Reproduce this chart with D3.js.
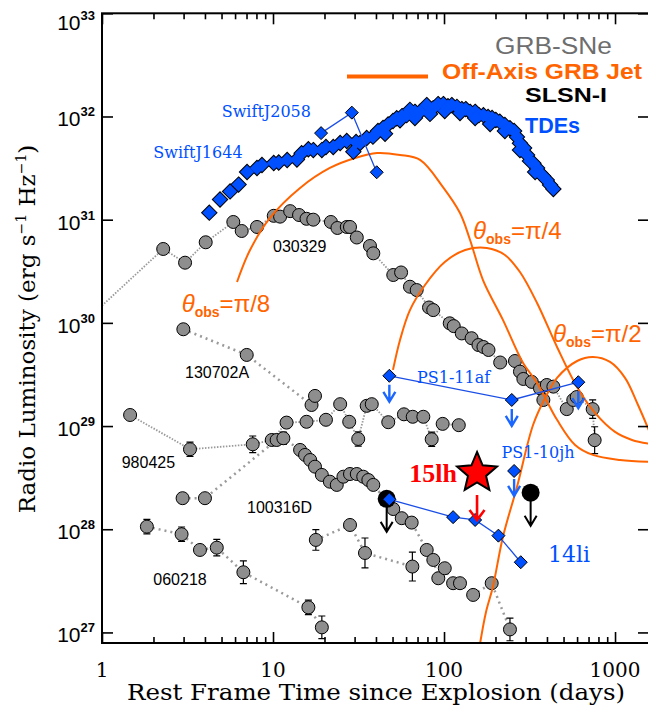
<!DOCTYPE html>
<html>
<head>
<meta charset="utf-8">
<script src="https://cdn.jsdelivr.net/npm/d3@7/dist/d3.min.js"></script>
<style>
  body { margin: 0; background: #fff; }
  svg text { font-family: "DejaVu Serif", serif; }
</style>
</head>
<body>
<svg id="chart" width="648" height="711"></svg>
<script>
// ---- data: [rest-frame days, L_nu (erg s^-1 Hz^-1), optional error (dex)] ----
const grb030329 = [[0.70,8.5e29],[2.28,5.2e30],[3.06,3.83e30],[4.04,6.04e30],[5.86,9.5e30],[6.56,7.77e30],
  [8.06,8.5e30],[10.1,1.09e31],[11.0,1.07e31],[12.6,1.21e31],[14.2,1.11e31],[15.7,1.02e31],[17.2,1.00e31],
  [21.8,9.5e30],[23.8,8.31e30],[27.0,8.5e30],[28.2,8.5e30],[30.9,6.72e30],[36.9,5.56e30],[38.6,4.72e30],
  [50.5,2.91e30],[56.1,3.08e30],[63.2,2.24e30],[69.2,2.08e30],[81.7,1.41e30],[86.5,1.33e30],[108,9.9e29],
  [114,9.3e29],[127,7.9e29],[145,7.1e29],[159,6.1e29],[170,5.84e29],[182,5.46e29],[213,4.13e29],[260,4.27e29],
  [278,3.37e29],[291,2.86e29],[326,2.68e29],[364,2.32e29],[381,1.79e29],[399,2.50e29],[436,2.41e29],
  [522,1.46e29],[570,1.79e29],[597,1.91e29],[740,1.46e29,0.09],[760,7.3e28,0.13]];
const grb130702A = [[2.99,8.67e29],[7.02,4.89e29],[16.8,1.60e29],[17.6,1.96e29]];
const grb980425 = [[1.46,1.28e29],[3.27,5.96e28,0.07],[7.61,6.66e28,0.08],[9.83,7.33e28],[12.0,1.08e29],
  [15.7,1.10e29],[20.4,1.15e29],[24.7,1.63e29],[27.9,1.10e29],[31.5,7.5e28,0.07],[35.3,1.57e29],[37.8,1.63e29],
  [47.2,1.09e29],[58.3,1.30e29],[65.6,1.23e29],[75.7,1.23e29],[84.7,7.45e28,0.07],[98.2,1.05e29],[122,1.02e29]];
const grb100316D = [[2.96,2.0e28],[4.00,2.0e28],[10.5,7.33e28],[11.5,7.62e28,0.06],[14.4,5.87e28],[15.4,5.25e28],
  [16.5,4.69e28],[17.6,4.04e28],[19.3,3.36e28],[21.5,2.89e28],[23.6,2.69e28],[25.8,3.23e28],[28.2,3.43e28],
  [30.9,3.43e28],[33.7,3.23e28],[36.1,3.0e28],[38.6,2.69e28],[50.5,1.57e28],[56.6,1.28e28],[64.7,1.16e28],
  [79.2,6.3e27],[86.6,5.04e27],[92.6,3.35e27],[101,4.19e27],[113,3.0e27],[124,3.0e27],[148,2.31e27],
  [190,3.0e27],[243,1.07e27,0.11]];
const grb031203 = [[17.8,7.88e27,0.10],[28.2,1.10e28],[34.5,5.89e27,0.145],[65.3,4.35e27,0.14]];
const grb060218 = [[1.83,1.06e28,0.07],[2.92,8.95e27,0.07],[3.74,6.3e27],[4.69,6.63e27,0.08],[6.71,3.83e27,0.11],
  [16.1,1.75e27,0.07],[19.3,1.12e27,0.11]];

const swiftJ1644 = [[4.24,1.17e31],[4.90,1.57e31],[5.61,1.88e31],[6.29,2.19e31],[7.05,2.90e31],[8.06,3.17e31],
  [8.62,3.39e31],[10.1,3.54e31],[10.8,3.58e31],[12.1,3.79e31],[13.8,3.83e31],[14.7,4.40e31],[16.1,4.81e31],
  [17.2,4.73e31],[19.3,4.73e31],[20.4,5.06e31],[22.5,5.06e31],[24.7,5.53e31],[27.0,5.79e31],[29.5,4.56e31],
  [30.6,5.66e31],[32.3,5.53e31],[35.3,6.19e31],[38.4,6.37e31],[41.1,7.24e31],[44.0,7.74e31],[47.1,8.37e31],
  [50.3,9.04e31],[52.9,9.61e31],[56.8,1.01e32],[60.5,1.03e32],[63.2,1.16e32],[67.6,1.11e32],[72.4,1.11e32],
  [79.2,1.29e32],[86.3,1.20e32],[92.3,1.32e32],[99.1,1.32e32],[105.5,1.26e32],[111,1.29e32],[119,1.24e32],
  [127,1.18e32],[134,1.18e32],[142,1.11e32],[152,1.11e32],[160,1.03e32],[170,1.03e32],[181,9.89e31],
  [191,9.67e31],[201,9.25e31],[212,8.91e31],[227,8.27e31],[243,7.69e31],[257,7.24e31],[267,6.33e31],
  [278,5.50e31],[294,4.95e31],[306,4.24e31],[318,3.71e31],[333,3.52e31],[350,3.17e31],[364,2.84e31],
  [379,2.65e31],[399,2.43e31],[417,2.17e31],[436,1.98e31],
  [45.2,6.8e31],[55.3,9.2e31],[67.6,9.67e31],[82.8,1.06e32],[101,1.13e32],[124,1.08e32],[152,9.67e31],
  [186,8.46e31],[227,7.24e31],[278,4.73e31],[341,2.90e31]];
const swiftJ2058 = [[19.1,6.9e31],[28.9,1.09e32],[40.4,2.88e31]];
const ps1_11af = [[47.9,3.07e29],[249,1.79e29],[610,2.66e29]];
const ps1_10jh = [[257,3.67e28]];
const asassn14li = [[47.9,1.95e28],[113,1.31e28],[152,1.23e28],[208,8.67e27],[281,4.79e27]];
const slsnI = [[46.2,1.97e28],[321,2.26e28]];
const asassn15lh = [[156,3.51e28]];

const jetPi8 = [[6.16,2.49e30],[7.34,5.09e30],[9.6,1.04e31],[14.4,2.03e31],[21.5,3.17e31],[30.2,3.96e31],
  [40.6,4.43e31],[55.3,4.24e31],[72.4,3.79e31],[98.6,2.07e31],[124,1.16e31],[142,6.36e30],[169,2.60e30],
  [221,1.07e30],[290,4.09e29],[350,2.62e29],[458,1.15e29],[584,6.56e28],[743,5.25e28],[1070,4.69e28],[1600,4.49e28]];
const jetPi4 = [[50.3,3.5e29],[55.3,6.83e29],[63.2,1.33e30],[77.4,2.33e30],[101,3.89e30],[133,5.09e30],
  [178,5.32e30],[227,4.55e30],[278,3.11e30],[350,1.56e30],[458,5.84e29],[600,2.39e29],[764,1.34e29],
  [1000,8.77e28],[1257,7.33e28],[1602,6.71e28]];
const jetPi2 = [[162,7.6e26],[176,1.58e27],[193,2.76e27],[221,8.42e27],[267,2.57e28],[332,1.03e29],
  [390,1.87e29],[458,2.93e29],[600,4.27e29],[743,4.67e29],[935,4.18e29],[1144,2.93e29],[1363,1.60e29],[1602,8.57e28]];

const xTickValues = [1, 10, 100, 1000];
const xTickLabels = ["1", "10", "100", "1000"];
const yTickValues = [1e27, 1e28, 1e29, 1e30, 1e31, 1e32, 1e33];
const yTickExps = ["27", "28", "29", "30", "31", "32", "33"];

// ---- layout ----
const svg = d3.select("#chart");
const pLeft = 102, pRight = 649, pTop = 13.3, pBottom = 643;
const x = d3.scaleLog().domain([1, 1580]).range([pLeft, pRight]);
const y = d3.scaleLog().domain([7.9e26, 1e33]).range([pBottom, pTop]);

const tdeBlue = "#0050ff", orange = "#ff6400";

svg.append("defs").append("clipPath").attr("id", "clip")
  .append("rect").attr("x", pLeft).attr("y", pTop).attr("width", pRight - pLeft).attr("height", pBottom - pTop);
const g = svg.append("g").attr("clip-path", "url(#clip)");

const line = d3.line().x(d => x(d[0])).y(d => y(d[1]));
const smooth = d3.line().x(d => x(d[0])).y(d => y(d[1])).curve(d3.curveCatmullRom);

// GRB-SNe: dotted gray lines, error bars, gray circles
function drawGrb(pts, dash, width) {
  g.append("path").datum(pts).attr("d", line).attr("fill", "none")
    .attr("stroke", "#9a9a9a").attr("stroke-width", width).attr("stroke-dasharray", dash);
  g.append("g").attr("stroke", "#000").attr("stroke-width", 1.2).attr("fill", "none")
    .selectAll("path").data(pts.filter(d => d[2])).join("path")
    .attr("d", d => {
      const cx = x(d[0]), y0 = y(d[1] * 10 ** d[2]), y1 = y(d[1] / 10 ** d[2]);
      return `M${cx},${y0}V${y1}M${cx - 3.5},${y0}H${cx + 3.5}M${cx - 3.5},${y1}H${cx + 3.5}`;
    });
  g.append("g").selectAll("circle").data(pts).join("circle")
    .attr("cx", d => x(d[0])).attr("cy", d => y(d[1])).attr("r", 6.5)
    .attr("fill", "#8e8e8e").attr("stroke", "#000").attr("stroke-width", 1);
}
drawGrb(grb030329, "1.5,1.5", 1.8);
drawGrb(grb130702A, "2,4", 2.5);
drawGrb(grb980425, "1.5,1.5", 1.8);
drawGrb(grb100316D, "2,4", 2.5);
drawGrb(grb031203, "2,4", 2.5);
drawGrb(grb060218, "2,4", 2.5);

// off-axis jet models
[jetPi8, jetPi4, jetPi2].forEach(c => {
  g.append("path").datum(c).attr("d", smooth).attr("fill", "none")
    .attr("stroke", orange).attr("stroke-width", 2);
});

// TDEs
const diamond = s => `M0,${-s}L${s},0L0,${s}L${-s},0Z`;
function drawDiamonds(pts, s) {
  g.append("g").selectAll("path").data(pts).join("path")
    .attr("transform", d => `translate(${x(d[0])},${y(d[1])})`)
    .attr("d", diamond(s)).attr("fill", tdeBlue).attr("stroke", "#000").attr("stroke-width", 1);
}
// SwiftJ1644: outlined band
g.append("g").selectAll("path").data(swiftJ1644).join("path")
  .attr("transform", d => `translate(${x(d[0])},${y(d[1])})`)
  .attr("d", diamond(7)).attr("fill", tdeBlue).attr("stroke", "#000").attr("stroke-width", 2);
g.append("g").selectAll("path").data(swiftJ1644).join("path")
  .attr("transform", d => `translate(${x(d[0])},${y(d[1])})`)
  .attr("d", diamond(7)).attr("fill", tdeBlue);

function blueLine(pts) {
  g.append("path").datum(pts).attr("d", line).attr("fill", "none")
    .attr("stroke", "#1a4ee6").attr("stroke-width", 1.3);
}
blueLine(swiftJ2058); drawDiamonds(swiftJ2058, 6.5);

function arrows(pts, color, off, len, w, hx, hy) {
  g.append("g").attr("stroke", color).attr("stroke-width", w).attr("fill", "none")
    .selectAll("path").data(pts).join("path")
    .attr("d", d => {
      const cx = x(d[0]), y0 = y(d[1]) + off, y1 = y0 + len;
      return `M${cx},${y0}V${y1}M${cx - hx},${y1 - hy}L${cx},${y1}L${cx + hx},${y1 - hy}`;
    });
}
blueLine(ps1_11af);
arrows(ps1_11af, "#1a66ff", 9, 17, 2.4, 6, 10);
drawDiamonds(ps1_11af, 6.5);
arrows(ps1_10jh, "#1a66ff", 8, 17, 2.4, 6, 10);
drawDiamonds(ps1_10jh, 6.5);

// SLSN-I upper limits
arrows(slsnI, "#000", 8, 25, 2, 6, 10);
g.append("g").selectAll("circle").data(slsnI).join("circle")
  .attr("cx", d => x(d[0])).attr("cy", d => y(d[1])).attr("r", 9).attr("fill", "#000");

blueLine(asassn14li); drawDiamonds(asassn14li, 6.5);

// ASASSN-15lh
arrows(asassn15lh, "#ff0000", 22, 25, 2.6, 7.5, 10);
const starPath = (R, r) => d3.range(10).map(i => {
  const a = -Math.PI / 2 + i * Math.PI / 5, rad = i % 2 ? r : R;
  return [rad * Math.cos(a), rad * Math.sin(a)];
});
g.selectAll("path.star").data(asassn15lh).join("path").attr("class", "star")
  .attr("transform", d => `translate(${x(d[0])},${y(d[1])})`)
  .attr("d", "M" + starPath(21, 9.5).join("L") + "Z")
  .attr("fill", "#ff0000").attr("stroke", "#000").attr("stroke-width", 2);

// ---- axes ----
const minorX = x.ticks().filter(v => !xTickValues.includes(v));
function axis(gen, tr, vals, size) {
  svg.append("g").attr("transform", tr)
    .call(gen.tickValues(vals).tickSizeInner(size).tickSizeOuter(0).tickFormat(""))
    .call(a => a.select(".domain").remove())
    .call(a => a.selectAll("line").attr("stroke", "#000").attr("stroke-width", 1.6));
}
axis(d3.axisBottom(x), `translate(0,${pBottom})`, xTickValues, -11);
axis(d3.axisBottom(x), `translate(0,${pBottom})`, minorX, -6);
axis(d3.axisTop(x), `translate(0,${pTop})`, xTickValues, -11);
axis(d3.axisTop(x), `translate(0,${pTop})`, minorX, -6);
axis(d3.axisLeft(y), `translate(${pLeft},0)`, yTickValues, -11);
axis(d3.axisRight(y), `translate(${pRight},0)`, yTickValues, -11);

svg.append("rect").attr("x", pLeft).attr("y", pTop).attr("width", pRight - pLeft).attr("height", pBottom - pTop)
  .attr("fill", "none").attr("stroke", "#000").attr("stroke-width", 2);

svg.append("g").selectAll("text").data(xTickValues).join("text")
  .attr("x", d => x(d)).attr("y", 676.5).attr("text-anchor", "middle")
  .attr("font-size", 20).attr("fill", "#000").text((d, i) => xTickLabels[i]);

const yl = svg.append("g").selectAll("text").data(yTickValues).join("text")
  .attr("x", 95).attr("y", d => Math.max(y(d) + 10, 30)).attr("text-anchor", "end")
  .style("font-family", "'Liberation Sans', sans-serif").attr("font-size", 21);
yl.append("tspan").text("10");
yl.append("tspan").attr("dy", -10).attr("font-size", 13).attr("font-weight", "bold")
  .text((d, i) => yTickExps[i]);

svg.append("text").attr("x", 376).attr("y", 700).attr("text-anchor", "middle")
  .attr("font-size", 22).attr("textLength", 498).attr("lengthAdjust", "spacingAndGlyphs")
  .text("Rest Frame Time since Explosion (days)");

const yt = svg.append("text").attr("transform", "translate(35,329) rotate(-90)")
  .attr("text-anchor", "middle").attr("font-size", 23);
yt.append("tspan").text("Radio Luminosity (erg s");
yt.append("tspan").attr("dy", -9).attr("font-size", 14).text("−1");
yt.append("tspan").attr("dy", 9).text(" Hz");
yt.append("tspan").attr("dy", -9).attr("font-size", 14).text("−1");
yt.append("tspan").attr("dy", 9).text(")");

// ---- annotations ----
const sans = "'Liberation Sans', sans-serif";
function label(txt, px, py, opts, len) {
  const t = svg.append("text").attr("x", px).attr("y", py).text(txt);
  Object.entries(opts).forEach(([k, v]) => t.style(k, v));
  if (len) t.attr("textLength", len).attr("lengthAdjust", "spacingAndGlyphs");
  return t;
}
[["030329", 273, 251.5], ["130702A", 185, 378.3], ["980425", 121.7, 468.3],
 ["100316D", 247, 512.5], ["060218", 153.3, 585]].forEach(([s, px, py]) =>
  label(s, px, py, {"font-family": sans, "font-size": "16px", fill: "#000"}));

[["SwiftJ2058", 221.7, 116.5, 16], ["SwiftJ1644", 153.3, 158, 16], ["PS1-11af", 417, 383, 16],
 ["PS1-10jh", 501.5, 458, 16], ["14li", 548, 561.5, 22]].forEach(([s, px, py, fs]) =>
  label(s, px, py, {"font-size": fs + "px", fill: tdeBlue}));

label("15lh", 457, 481.5, {"font-family": "'Liberation Serif', serif", "font-size": "26px",
  "font-weight": "bold", fill: "#ff0000", "text-anchor": "end"});

function thetaLabel(frac, px, py) {
  const t = svg.append("text").attr("x", px).attr("y", py).style("font-family", sans)
    .attr("font-size", 24).attr("fill", orange);
  t.append("tspan").attr("font-style", "italic").text("θ");
  t.append("tspan").attr("dy", 5).attr("font-size", 14).attr("font-weight", "bold").text("obs");
  t.append("tspan").attr("dy", -5).text("=π/" + frac);
}
thetaLabel("8", 181.7, 312);
thetaLabel("4", 473, 239);
thetaLabel("2", 553, 342);

// legend
label("GRB-SNe", 495, 53.5, {"font-family": sans, "font-size": "23px", fill: "#6e6e6e"}, 117);
svg.append("line").attr("x1", 347).attr("x2", 428).attr("y1", 76.5).attr("y2", 76.5)
  .attr("stroke", orange).attr("stroke-width", 4);
label("Off-Axis GRB Jet", 442, 78.5, {"font-family": sans, "font-size": "22px", "font-weight": "bold",
  fill: orange}, 200);
label("SLSN-I", 525, 102, {"font-family": sans, "font-size": "21px", "font-weight": "bold", fill: "#000"}, 82);
label("TDEs", 525, 133, {"font-family": sans, "font-size": "22px", "font-weight": "bold", fill: tdeBlue}, 55);
</script>
</body>
</html>
